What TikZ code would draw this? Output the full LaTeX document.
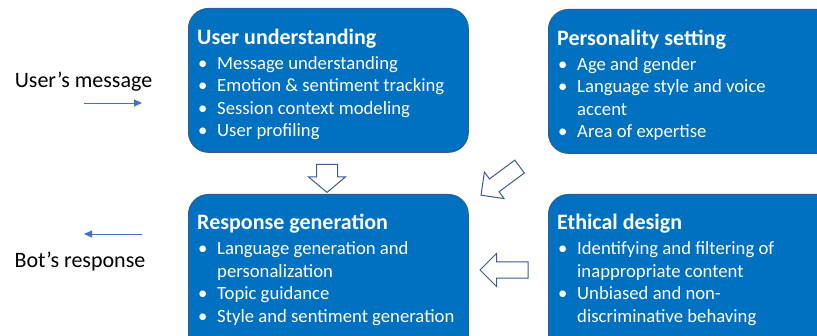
\documentclass[tikz,border=0pt]{standalone}
\usepackage{fontspec}
\setmainfont{Carlito}
\usetikzlibrary{shapes.arrows,arrows.meta,calc}
\definecolor{boxblue}{HTML}{0070C0}
\definecolor{boxedge}{HTML}{2F5D8F}
\definecolor{arrowedge}{HTML}{3C5A94}
\definecolor{linkblue}{HTML}{4472C4}
\newcommand\bul{\makebox[20pt][l]{\hspace{1pt}\textbullet}}
\newcommand\cont{\hspace*{20pt}}
\newcommand\ttl[1]{{\bfseries\fontsize{22}{22.5}\selectfont #1}}
\begin{document}
\begin{tikzpicture}[x=1pt,y=1pt,
  panel/.style={draw=boxedge, line width=0.8pt, fill=boxblue, rounded corners=20pt, anchor=north west, inner sep=0pt},
  paneltext/.style={text=white, align=left, inner sep=0pt, anchor=north west, font=\fontsize{18.7}{22.5}\selectfont},
  blockarrow/.style={single arrow, draw=arrowedge, line width=1pt, fill=white, inner sep=0pt},
  smallarrow/.style={draw=linkblue, line width=0.9pt, -{Triangle[length=8pt,width=7pt]}},
  sidetext/.style={font=\fontsize{22}{26}\selectfont, inner sep=0pt}]
\useasboundingbox (0,0) rectangle (817,335);
\clip (0,0) rectangle (817,335);
% panels
\node[panel, minimum width=280pt, minimum height=144pt] (uu) at (188,327) {};
\node[panel, minimum width=290pt, minimum height=144pt] (ps) at (548,326) {};
\node[panel, minimum width=280pt, minimum height=165pt] (rg) at (188,141) {};
\node[panel, minimum width=290pt, minimum height=165pt] (ed) at (548,141) {};
% panel texts
\node[paneltext] (uut) at ($(uu.north west)+(9,-20.5)$) {\ttl{User understanding}\\[2.5pt]
\bul Message understanding\\
\bul Emotion \& sentiment tracking\\
\bul Session context modeling\\
\bul User profiling};
\node[paneltext] (pst) at ($(ps.north west)+(9,-20.5)$) {\ttl{Personality setting}\\[2.5pt]
\bul Age and gender\\
\bul Language style and voice\\
\cont accent\\
\bul Area of expertise};
\node[paneltext] (rgt) at ($(rg.north west)+(9,-20)$) {\ttl{Response generation}\\[2.5pt]
\bul Language generation and\\
\cont personalization\\
\bul Topic guidance\\
\bul Style and sentiment generation};
\node[paneltext] (edt) at ($(ed.north west)+(9,-20)$) {\ttl{Ethical design}\\[2.5pt]
\bul Identifying and filtering of\\
\cont inappropriate content\\
\bul Unbiased and non-\\
\cont discriminative behaving};
% block arrows
\node[blockarrow, minimum height=28pt, minimum width=36pt, inner ysep=10pt, single arrow head extend=8pt, single arrow tip angle=100, rotate=-90] (a1) at (327,161) {};
\node[blockarrow, minimum height=48pt, minimum width=32pt, inner ysep=7.5pt, single arrow head extend=8.5pt, rotate=180] (a2) at (508,65) {};
\node[blockarrow, minimum height=48pt, minimum width=32pt, inner ysep=7.5pt, single arrow head extend=8.5pt, rotate=216.6] (a3) at (503.5,156.5) {};
% side texts and arrows
\node[sidetext] (um) at (83.5,253.5) {User’s message};
\node[sidetext] (br) at (80,73.5) {Bot’s response};
\coordinate (m1) at (84,232);
\coordinate (m2) at (142,232);
\coordinate (r1) at (142,101);
\coordinate (r2) at (84,101);
\draw[smallarrow] (m1) -- (m2);
\draw[smallarrow] (r1) -- (r2);
\end{tikzpicture}
\end{document}
